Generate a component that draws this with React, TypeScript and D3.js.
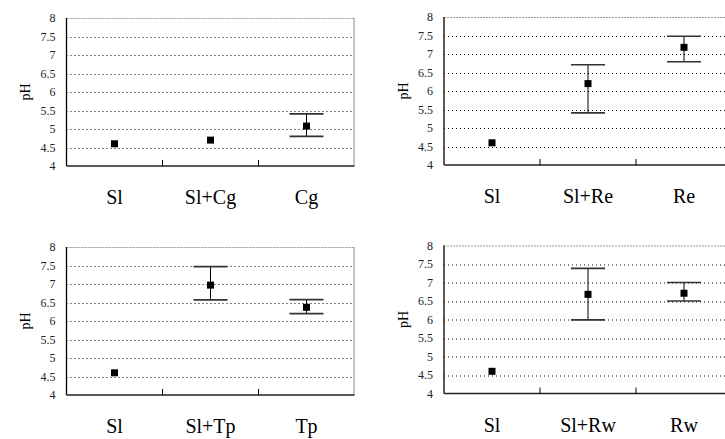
import React from "react";
import * as d3 from "d3";

const yTicks = [4, 4.5, 5, 5.5, 6, 6.5, 7, 7.5, 8];

const cats1 = ["Sl", "Sl+Cg", "Cg"];
const mean1 = [4.6, 4.7, 5.08];
const low1 = [null, null, 4.8];
const high1 = [null, null, 5.41];

const cats2 = ["Sl", "Sl+Re", "Re"];
const mean2 = [4.6, 6.2, 7.18];
const low2 = [null, 5.41, 6.79];
const high2 = [null, 6.71, 7.48];

const cats3 = ["Sl", "Sl+Tp", "Tp"];
const mean3 = [4.6, 6.97, 6.37];
const low3 = [null, 6.57, 6.2];
const high3 = [null, 7.47, 6.58];

const cats4 = ["Sl", "Sl+Rw", "Rw"];
const mean4 = [4.6, 6.68, 6.71];
const low4 = [null, 5.99, 6.5];
const high4 = [null, 7.38, 7.0];

type PanelProps = {
  left: number;
  top: number;
  cats: string[];
  mean: number[];
  low: (number | null)[];
  high: (number | null)[];
};

const W = 288;
const H = 148;
const FONT = "Liberation Serif";

function Panel({ left, top, cats, mean, low, high }: PanelProps) {
  const x = d3.scaleBand<string>().domain(cats).range([0, W]);
  const y = d3.scaleLinear().domain([4, 8]).range([H, 0]);
  return (
    <g transform={`translate(${left},${top})`}>
      {yTicks
        .filter((t) => t > 4 && t < 8)
        .map((t) => (
          <line
            key={t}
            x1={0}
            x2={W}
            y1={Math.round(y(t)) + 0.5}
            y2={Math.round(y(t)) + 0.5}
            stroke="#000"
            strokeWidth={1}
            strokeDasharray="1,3"
          />
        ))}
      <line x1={0} x2={W} y1={0.5} y2={0.5} stroke="#999" strokeWidth={1.2} strokeDasharray="2,1" />
      <line x1={W - 0.5} x2={W - 0.5} y1={0} y2={H} stroke="#888" strokeWidth={1} />
      <line x1={0} x2={0} y1={0} y2={H} stroke="#000" strokeWidth={1.3} />
      <line x1={0} x2={W} y1={H} y2={H} stroke="#222" strokeWidth={1.6} />
      {cats.slice(1).map((c) => (
        <line key={c} x1={x(c)!} x2={x(c)!} y1={H} y2={H - 6} stroke="#000" strokeWidth={1} />
      ))}
      {yTicks.map((t) => (
        <text
          key={t}
          x={-11}
          y={y(t)}
          dy="0.35em"
          textAnchor="end"
          style={{ fontFamily: FONT, fontSize: "12px" }}
          fill="#222"
        >
          {t}
        </text>
      ))}
      <text
        transform={`translate(${-41},${H / 2}) rotate(-90)`}
        textAnchor="middle"
        dy="0.35em"
        style={{ fontFamily: FONT, fontSize: "14px" }}
        fill="#000"
      >
        pH
      </text>
      {cats.map((c, i) => {
        const cx = x(c)! + x.bandwidth() / 2;
        const lo = low[i];
        const hi = high[i];
        return (
          <g key={c}>
            {lo != null && hi != null && (
              <g>
                <line x1={cx} x2={cx} y1={y(hi)} y2={y(lo)} stroke="#000" strokeWidth={1} />
                <line x1={cx - 17} x2={cx + 17} y1={y(hi)} y2={y(hi)} stroke="#333" strokeWidth={1.7} />
                <line x1={cx - 17} x2={cx + 17} y1={y(lo)} y2={y(lo)} stroke="#333" strokeWidth={1.7} />
              </g>
            )}
            <rect x={cx - 3.5} y={y(mean[i]) - 3.5} width={7} height={7} fill="#000" />
            <text
              x={cx}
              y={H + 38}
              textAnchor="middle"
              style={{ fontFamily: FONT, fontSize: "20px" }}
              fill="#000"
            >
              {c}
            </text>
          </g>
        );
      })}
    </g>
  );
}

export default function App() {
  return (
    <svg
      width={725}
      height={439}
      style={{ position: "absolute", left: 0, top: 0, background: "#fff" }}
    >
      <rect width={725} height={439} fill="#fff" />
      <Panel left={66.5} top={18} cats={cats1} mean={mean1} low={low1} high={high1} />
      <Panel left={444} top={17} cats={cats2} mean={mean2} low={low2} high={high2} />
      <Panel left={66.5} top={247} cats={cats3} mean={mean3} low={low3} high={high3} />
      <Panel left={444} top={245.5} cats={cats4} mean={mean4} low={low4} high={high4} />
    </svg>
  );
}
